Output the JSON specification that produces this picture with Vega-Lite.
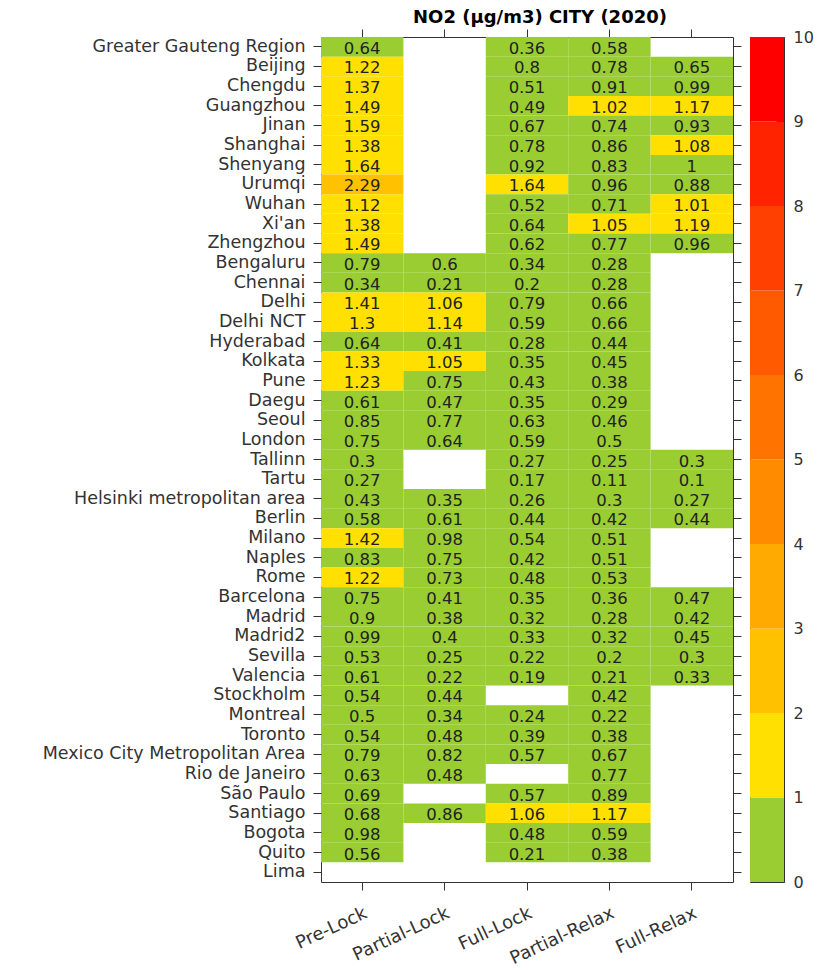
{
  "$schema": "https://vega.github.io/schema/vega-lite/v6.json",
  "padding": {"left": 41, "top": 8, "right": 5, "bottom": 5},
  "background": "white",
  "config": {
    "font": "DejaVu Sans",
    "view": {"stroke": "#333333", "strokeWidth": 1},
    "axis": {"domain": false, "grid": false, "tickColor": "#333333", "labelColor": "#333333", "labelFont": "DejaVu Sans"}
  },
  "datasets": {
    "no2": [
      {"city": "Greater Gauteng Region", "Pre-Lock": 0.64, "Full-Lock": 0.36, "Partial-Relax": 0.58},
      {"city": "Beijing", "Pre-Lock": 1.22, "Full-Lock": 0.8, "Partial-Relax": 0.78, "Full-Relax": 0.65},
      {"city": "Chengdu", "Pre-Lock": 1.37, "Full-Lock": 0.51, "Partial-Relax": 0.91, "Full-Relax": 0.99},
      {"city": "Guangzhou", "Pre-Lock": 1.49, "Full-Lock": 0.49, "Partial-Relax": 1.02, "Full-Relax": 1.17},
      {"city": "Jinan", "Pre-Lock": 1.59, "Full-Lock": 0.67, "Partial-Relax": 0.74, "Full-Relax": 0.93},
      {"city": "Shanghai", "Pre-Lock": 1.38, "Full-Lock": 0.78, "Partial-Relax": 0.86, "Full-Relax": 1.08},
      {"city": "Shenyang", "Pre-Lock": 1.64, "Full-Lock": 0.92, "Partial-Relax": 0.83, "Full-Relax": 1},
      {"city": "Urumqi", "Pre-Lock": 2.29, "Full-Lock": 1.64, "Partial-Relax": 0.96, "Full-Relax": 0.88},
      {"city": "Wuhan", "Pre-Lock": 1.12, "Full-Lock": 0.52, "Partial-Relax": 0.71, "Full-Relax": 1.01},
      {"city": "Xi'an", "Pre-Lock": 1.38, "Full-Lock": 0.64, "Partial-Relax": 1.05, "Full-Relax": 1.19},
      {"city": "Zhengzhou", "Pre-Lock": 1.49, "Full-Lock": 0.62, "Partial-Relax": 0.77, "Full-Relax": 0.96},
      {"city": "Bengaluru", "Pre-Lock": 0.79, "Partial-Lock": 0.6, "Full-Lock": 0.34, "Partial-Relax": 0.28},
      {"city": "Chennai", "Pre-Lock": 0.34, "Partial-Lock": 0.21, "Full-Lock": 0.2, "Partial-Relax": 0.28},
      {"city": "Delhi", "Pre-Lock": 1.41, "Partial-Lock": 1.06, "Full-Lock": 0.79, "Partial-Relax": 0.66},
      {"city": "Delhi NCT", "Pre-Lock": 1.3, "Partial-Lock": 1.14, "Full-Lock": 0.59, "Partial-Relax": 0.66},
      {"city": "Hyderabad", "Pre-Lock": 0.64, "Partial-Lock": 0.41, "Full-Lock": 0.28, "Partial-Relax": 0.44},
      {"city": "Kolkata", "Pre-Lock": 1.33, "Partial-Lock": 1.05, "Full-Lock": 0.35, "Partial-Relax": 0.45},
      {"city": "Pune", "Pre-Lock": 1.23, "Partial-Lock": 0.75, "Full-Lock": 0.43, "Partial-Relax": 0.38},
      {"city": "Daegu", "Pre-Lock": 0.61, "Partial-Lock": 0.47, "Full-Lock": 0.35, "Partial-Relax": 0.29},
      {"city": "Seoul", "Pre-Lock": 0.85, "Partial-Lock": 0.77, "Full-Lock": 0.63, "Partial-Relax": 0.46},
      {"city": "London", "Pre-Lock": 0.75, "Partial-Lock": 0.64, "Full-Lock": 0.59, "Partial-Relax": 0.5},
      {"city": "Tallinn", "Pre-Lock": 0.3, "Full-Lock": 0.27, "Partial-Relax": 0.25, "Full-Relax": 0.3},
      {"city": "Tartu", "Pre-Lock": 0.27, "Full-Lock": 0.17, "Partial-Relax": 0.11, "Full-Relax": 0.1},
      {"city": "Helsinki metropolitan area", "Pre-Lock": 0.43, "Partial-Lock": 0.35, "Full-Lock": 0.26, "Partial-Relax": 0.3, "Full-Relax": 0.27},
      {"city": "Berlin", "Pre-Lock": 0.58, "Partial-Lock": 0.61, "Full-Lock": 0.44, "Partial-Relax": 0.42, "Full-Relax": 0.44},
      {"city": "Milano", "Pre-Lock": 1.42, "Partial-Lock": 0.98, "Full-Lock": 0.54, "Partial-Relax": 0.51},
      {"city": "Naples", "Pre-Lock": 0.83, "Partial-Lock": 0.75, "Full-Lock": 0.42, "Partial-Relax": 0.51},
      {"city": "Rome", "Pre-Lock": 1.22, "Partial-Lock": 0.73, "Full-Lock": 0.48, "Partial-Relax": 0.53},
      {"city": "Barcelona", "Pre-Lock": 0.75, "Partial-Lock": 0.41, "Full-Lock": 0.35, "Partial-Relax": 0.36, "Full-Relax": 0.47},
      {"city": "Madrid", "Pre-Lock": 0.9, "Partial-Lock": 0.38, "Full-Lock": 0.32, "Partial-Relax": 0.28, "Full-Relax": 0.42},
      {"city": "Madrid2", "Pre-Lock": 0.99, "Partial-Lock": 0.4, "Full-Lock": 0.33, "Partial-Relax": 0.32, "Full-Relax": 0.45},
      {"city": "Sevilla", "Pre-Lock": 0.53, "Partial-Lock": 0.25, "Full-Lock": 0.22, "Partial-Relax": 0.2, "Full-Relax": 0.3},
      {"city": "Valencia", "Pre-Lock": 0.61, "Partial-Lock": 0.22, "Full-Lock": 0.19, "Partial-Relax": 0.21, "Full-Relax": 0.33},
      {"city": "Stockholm", "Pre-Lock": 0.54, "Partial-Lock": 0.44, "Partial-Relax": 0.42},
      {"city": "Montreal", "Pre-Lock": 0.5, "Partial-Lock": 0.34, "Full-Lock": 0.24, "Partial-Relax": 0.22},
      {"city": "Toronto", "Pre-Lock": 0.54, "Partial-Lock": 0.48, "Full-Lock": 0.39, "Partial-Relax": 0.38},
      {"city": "Mexico City Metropolitan Area", "Pre-Lock": 0.79, "Partial-Lock": 0.82, "Full-Lock": 0.57, "Partial-Relax": 0.67},
      {"city": "Rio de Janeiro", "Pre-Lock": 0.63, "Partial-Lock": 0.48, "Partial-Relax": 0.77},
      {"city": "São Paulo", "Pre-Lock": 0.69, "Full-Lock": 0.57, "Partial-Relax": 0.89},
      {"city": "Santiago", "Pre-Lock": 0.68, "Partial-Lock": 0.86, "Full-Lock": 1.06, "Partial-Relax": 1.17},
      {"city": "Bogota", "Pre-Lock": 0.98, "Full-Lock": 0.48, "Partial-Relax": 0.59},
      {"city": "Quito", "Pre-Lock": 0.56, "Full-Lock": 0.21, "Partial-Relax": 0.38},
      {"city": "Lima"}
    ],
    "bins": [
      {"lo": 0, "hi": 1}, {"lo": 1, "hi": 2}, {"lo": 2, "hi": 3}, {"lo": 3, "hi": 4}, {"lo": 4, "hi": 5},
      {"lo": 5, "hi": 6}, {"lo": 6, "hi": 7}, {"lo": 7, "hi": 8}, {"lo": 8, "hi": 9}, {"lo": 9, "hi": 10}
    ]
  },
  "bounds": "flush",
  "spacing": 17,
  "resolve": {"scale": {"color": "independent"}},
  "hconcat": [
    {
      "title": {"text": "NO2 (µg/m3) CITY (2020)", "fontSize": 18, "fontWeight": "bold", "color": "black", "font": "DejaVu Sans", "anchor": "middle", "frame": "group", "offset": 2, "dx": 13},
      "width": 412,
      "height": 845,
      "data": {"name": "no2"},
      "transform": [
        {"fold": ["Pre-Lock", "Partial-Lock", "Full-Lock", "Partial-Relax", "Full-Relax"], "as": ["phase", "value"]},
        {"filter": "isValid(datum.value)"}
      ],
      "resolve": {"axis": {"x": "independent", "y": "independent"}},
      "layer": [
        {
          "mark": {"type": "rect"},
          "encoding": {
            "x": {"field": "phase", "type": "nominal", "sort": null,
              "scale": {"domain": ["Pre-Lock", "Partial-Lock", "Full-Lock", "Partial-Relax", "Full-Relax"], "paddingInner": 0, "paddingOuter": 0},
              "axis": {"orient": "bottom", "title": null, "labelAngle": -25, "labelAlign": "right", "labelBaseline": "middle", "labelFontSize": 18, "tickSize": 8, "labelPadding": 22, "labelOffset": 4}},
            "y": {"field": "city", "type": "nominal", "sort": null,
              "scale": {"domain": ["Greater Gauteng Region", "Beijing", "Chengdu", "Guangzhou", "Jinan", "Shanghai", "Shenyang", "Urumqi", "Wuhan", "Xi'an", "Zhengzhou", "Bengaluru", "Chennai", "Delhi", "Delhi NCT", "Hyderabad", "Kolkata", "Pune", "Daegu", "Seoul", "London", "Tallinn", "Tartu", "Helsinki metropolitan area", "Berlin", "Milano", "Naples", "Rome", "Barcelona", "Madrid", "Madrid2", "Sevilla", "Valencia", "Stockholm", "Montreal", "Toronto", "Mexico City Metropolitan Area", "Rio de Janeiro", "São Paulo", "Santiago", "Bogota", "Quito", "Lima"], "paddingInner": 0, "paddingOuter": 0},
              "axis": {"orient": "left", "title": null, "labelFontSize": 17.5, "tickSize": 8, "labelPadding": 8, "labelLimit": 500}},
            "color": {"field": "value", "type": "quantitative",
              "scale": {"type": "threshold", "domain": [1.0001, 2.0001, 3.0001, 4.0001, 5.0001, 6.0001, 7.0001, 8.0001, 9.0001],
                "range": ["#9ACD32", "#FFE000", "#FFC100", "#FFAA00", "#FF8C00", "#FF7300", "#FF5A00", "#FF4000", "#FF2300", "#FF0000"]},
              "legend": null}
          }
        },
        {
          "mark": {"type": "text", "fontSize": 16.5, "color": "#222222", "dy": 2, "font": "DejaVu Sans"},
          "encoding": {
            "x": {"field": "phase", "type": "nominal", "sort": null,
              "axis": {"orient": "top", "title": null, "labels": false, "tickSize": 8}},
            "y": {"field": "city", "type": "nominal", "sort": null,
              "axis": {"orient": "right", "title": null, "labels": false, "tickSize": 8}},
            "text": {"field": "value", "type": "quantitative", "format": "~g"}
          }
        }
      ]
    },
    {
      "width": 34,
      "height": 845,
      "data": {"name": "bins"},
      "mark": {"type": "rect"},
      "encoding": {
        "y": {"field": "lo", "type": "quantitative",
          "scale": {"domain": [0, 10], "nice": false},
          "axis": {"orient": "right", "title": null, "values": [0, 1, 2, 3, 4, 5, 6, 7, 8, 9, 10], "tickSize": -8, "labelPadding": 17, "labelFontSize": 16, "labelBaseline": "middle"}},
        "y2": {"field": "hi"},
        "color": {"field": "hi", "type": "quantitative",
          "scale": {"type": "threshold", "domain": [1.0001, 2.0001, 3.0001, 4.0001, 5.0001, 6.0001, 7.0001, 8.0001, 9.0001],
            "range": ["#9ACD32", "#FFE000", "#FFC100", "#FFAA00", "#FF8C00", "#FF7300", "#FF5A00", "#FF4000", "#FF2300", "#FF0000"]},
          "legend": null}
      }
    }
  ]
}
